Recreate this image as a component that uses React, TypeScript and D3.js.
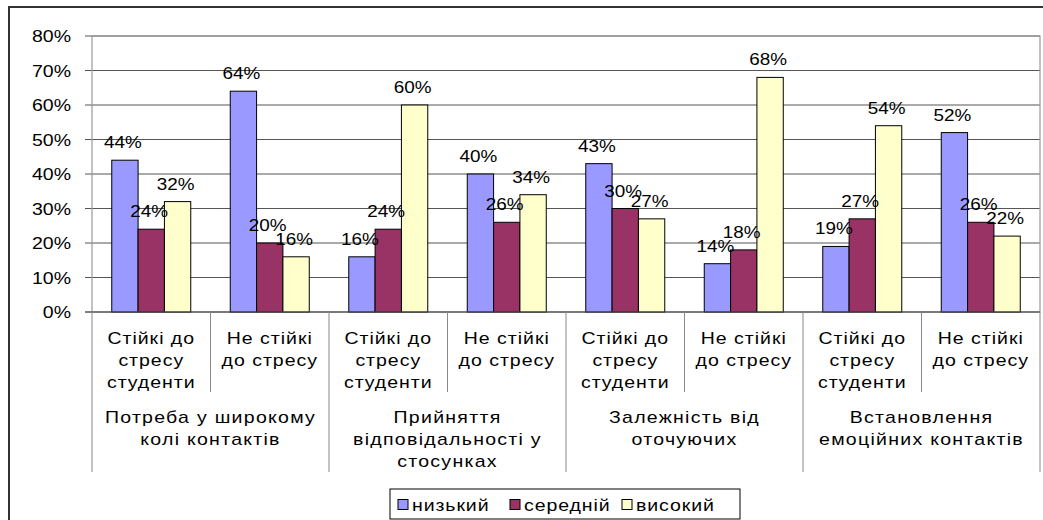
import React from "react";
import * as d3 from "d3";

const subCategories: string[][] = [
  ["Стійкі до", "стресу", "студенти"],
  ["Не стійкі", "до стресу"],
  ["Стійкі до", "стресу", "студенти"],
  ["Не стійкі", "до стресу"],
  ["Стійкі до", "стресу", "студенти"],
  ["Не стійкі", "до стресу"],
  ["Стійкі до", "стресу", "студенти"],
  ["Не стійкі", "до стресу"],
];
const groups: string[][] = [
  ["Потреба у широкому", "колі контактів"],
  ["Прийняття", "відповідальності у", "стосунках"],
  ["Залежність від", "оточуючих"],
  ["Встановлення", "емоційних контактів"],
];
const seriesNames = ["низький", "середній", "високий"];
const low = [44, 64, 16, 40, 43, 14, 19, 52];
const mid = [24, 20, 24, 26, 30, 18, 27, 26];
const high = [32, 16, 60, 34, 27, 68, 54, 22];
const yTicks = [0, 10, 20, 30, 40, 50, 60, 70, 80];
const colors = ["#9999FF", "#993366", "#FFFFCC"];

const W = 1043;
const H = 520;
const plot = { left: 92, top: 36, right: 1040, bottom: 312 };
const FONT = "'Liberation Sans', Arial, sans-serif";
const SX = 1.22;

function T({ x, y, children, anchor = "middle", size = 16, ls = 0, sx = SX }: any) {
  return (
    <text
      transform={`translate(${x},${y}) scale(${sx},1)`}
      textAnchor={anchor}
      fontFamily={FONT}
      fontSize={size}
      letterSpacing={ls}
      fill="#000"
    >
      {children}
    </text>
  );
}

export default function App() {
  const series = [low, mid, high];
  const idx = d3.range(subCategories.length);
  const x0 = d3
    .scaleBand<number>()
    .domain(idx)
    .range([plot.left, plot.right])
    .paddingInner(0)
    .paddingOuter(0);
  const band = x0.bandwidth();
  const barW = band / 4.5;
  const y = d3.scaleLinear().domain([0, 80]).range([plot.bottom, plot.top]);

  return (
    <svg
      width={W}
      height={H}
      style={{ position: "absolute", left: 0, top: 0, background: "#fff" }}
    >
      <rect x={0} y={0} width={W} height={H} fill="#fff" />
      {/* outer chart border */}
      <rect x={9} y={7} width={W + 20} height={H + 20} fill="none" stroke="#333" strokeWidth={2} />

      {/* gridlines */}
      {yTicks.map((t) => (
        <line key={"g" + t} x1={plot.left - 7} x2={plot.right} y1={y(t)} y2={y(t)} stroke="#555" strokeWidth={1} />
      ))}
      {/* plot border */}
      <rect
        x={plot.left}
        y={plot.top}
        width={plot.right - plot.left}
        height={plot.bottom - plot.top}
        fill="none"
        stroke="#999"
        strokeWidth={1.2}
      />
      {/* y tick labels */}
      {yTicks.map((t) => (
        <T key={"yl" + t} x={71} y={y(t) + 6} anchor="end">
          {t + "%"}
        </T>
      ))}

      {/* bars */}
      {idx.map((i) =>
        series.map((s, k) => {
          const bx = (x0(i) as number) + band * 0.1667 + k * barW;
          return (
            <rect
              key={`b${i}-${k}`}
              x={bx}
              y={y(s[i])}
              width={barW}
              height={plot.bottom - y(s[i])}
              fill={colors[k]}
              stroke="#000"
              strokeWidth={1}
            />
          );
        })
      )}
      {/* value labels */}
      {idx.map((i) =>
        series.map((s, k) => {
          const bx = (x0(i) as number) + band * 0.1667 + k * barW + barW / 2 - 2;
          return (
            <T key={`l${i}-${k}`} x={bx} y={y(s[i]) - 12} sx={1.18}>
              {s[i] + "%"}
            </T>
          );
        })
      )}

      {/* axis line */}
      <line x1={plot.left - 7} x2={plot.right} y1={plot.bottom} y2={plot.bottom} stroke="#555" />
      {/* category separators */}
      {d3.range(subCategories.length + 1).map((j) => {
        const xx = plot.left + j * band;
        const long = j % 2 === 0;
        return (
          <line
            key={"s" + j}
            x1={xx}
            x2={xx}
            y1={plot.bottom}
            y2={long ? 472 : 392}
            stroke="#888"
            strokeWidth={1}
          />
        );
      })}
      {/* sub-category labels */}
      {subCategories.map((lines, i) =>
        lines.map((ln, li) => (
          <T key={`c${i}-${li}`} x={(x0(i) as number) + band / 2} y={344 + li * 22} ls={0.8}>
            {ln}
          </T>
        ))
      )}
      {/* group labels */}
      {groups.map((lines, g) =>
        lines.map((ln, li) => (
          <T key={`gl${g}-${li}`} x={plot.left + band * (2 * g + 1)} y={423 + li * 22} ls={1.05}>
            {ln}
          </T>
        ))
      )}

      {/* legend */}
      <rect x={390} y={489} width={350} height={30} fill="#fff" stroke="#000" strokeWidth={1} />
      {seriesNames.map((n, k) => {
        const lx = 398 + k * 112;
        return (
          <g key={"lg" + k}>
            <rect x={lx} y={499.5} width={10} height={10} fill={colors[k]} stroke="#000" strokeWidth={1} />
            <T x={lx + 14} y={511} anchor="start" ls={0.75}>
              {n}
            </T>
          </g>
        );
      })}
    </svg>
  );
}
